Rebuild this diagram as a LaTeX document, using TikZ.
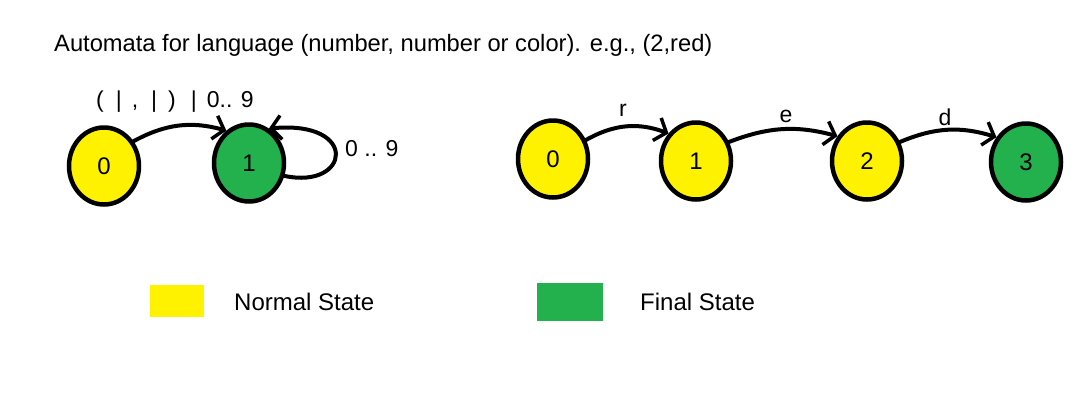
\documentclass[tikz,border=0pt]{standalone}
\usepackage{fontspec}
\setmainfont{Liberation Sans}
\usetikzlibrary{arrows.meta,shapes.geometric}
\definecolor{pyellow}{RGB}{255,242,0}
\definecolor{pgreen}{RGB}{34,177,76}
\begin{document}
\begin{tikzpicture}[x=1pt,y=-1pt,
  state/.style={ellipse,draw=black,line width=4.5pt,minimum width=70pt,minimum height=77pt,inner sep=0pt,font=\fontsize{24}{26}\selectfont},
  normal/.style={state,fill=pyellow},
  final/.style={state,fill=pgreen},
  edge/.style={line width=4pt,line cap=round,-{Straight Barb[length=10pt,width=24pt,line width=3.5pt]}},
  lbl/.style={font=\fontsize{23}{26}\selectfont,inner sep=0pt},
  legtext/.style={font=\fontsize{24}{28}\selectfont,anchor=west,inner sep=0pt}]
\useasboundingbox[fill=white] (0,0) rectangle (1081,408);
\node[anchor=west,inner sep=0pt,font=\fontsize{23.7}{26}\selectfont] (title) at (54,45) {Automata for language (number, number or color). e.g., (2,red)};
% left automaton
\node[normal] (a0) at (104,166) {0};
\node[final] (a1) at (249,163) {1};
\draw[edge] (a0.40) to[bend left=22] (a1.125);
\draw[edge] (a1.-20) .. controls (350,190) and (360,120) .. (a1.60);
\node[lbl,anchor=west] (la) at (96,102) {(\hspace{12pt}|\hspace{10pt},\hspace{13pt}|\hspace{11pt})\hspace{15pt}|\hspace{10pt}0.. 9};
\node[lbl,anchor=west] (lb) at (345,149) {0 .. 9};
% right automaton
\node[normal] (b0) at (553,159) {0};
\node[normal] (b1) at (696,161) {1};
\node[normal] (b2) at (867,161) {2};
\node[final] (b3) at (1026,162) {3};
\draw[edge] (b0.30) to[bend left=25] (b1.135);
\draw[edge] (b1.30) to[bend left=18] (b2.140);
\draw[edge] (b2.30) to[bend left=20] (b3.140);
\node[lbl] (lr) at (623,110) {r};
\node[lbl] (le) at (786,116) {e};
\node[lbl] (ld) at (945,117) {d};
% legend
\path[fill=pyellow] (150,285) rectangle (204,317);
\node[legtext] (ln) at (234,302) {Normal State};
\path[fill=pgreen] (537,283) rectangle (603,321);
\node[legtext] (lf) at (640,302) {Final State};
\end{tikzpicture}
\end{document}
